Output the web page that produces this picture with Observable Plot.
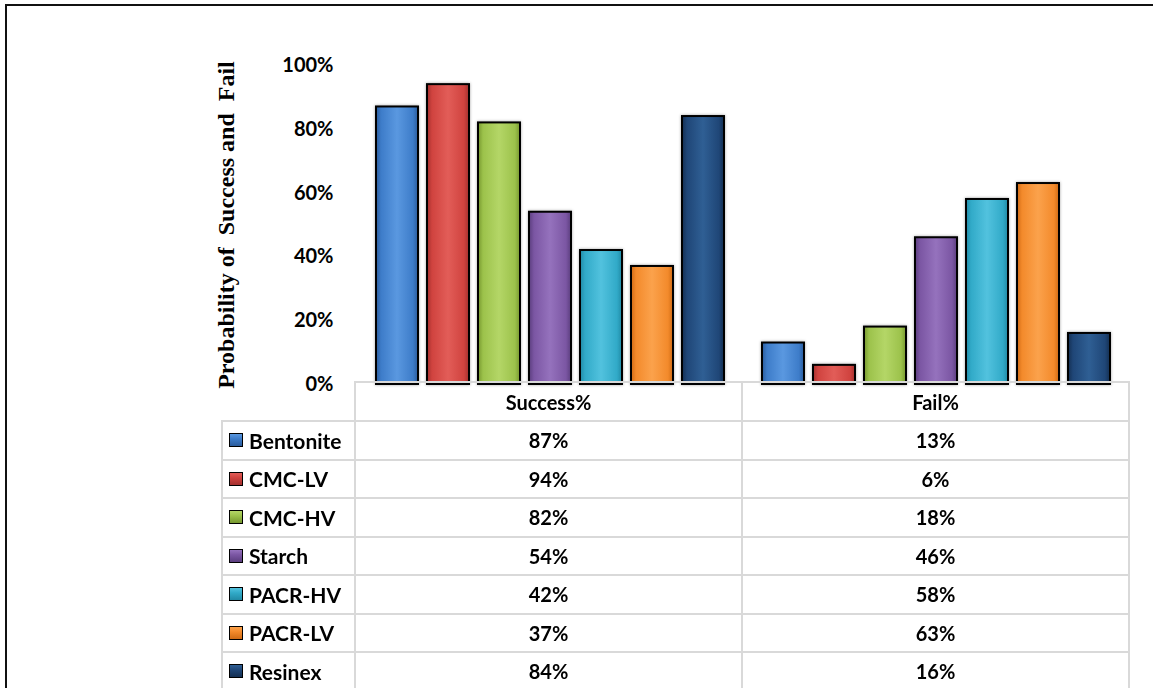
<!DOCTYPE html>
<html><head><meta charset="utf-8">
<script src="https://cdn.jsdelivr.net/npm/d3@7"></script>
<script src="https://cdn.jsdelivr.net/npm/@observablehq/plot@0.6"></script>
<style>
html,body{margin:0;padding:0;background:#fff;width:1153px;height:688px;overflow:hidden;position:relative;}
#frame{position:absolute;left:5px;top:4px;width:1200px;height:720px;border-top:2px solid #111;border-left:2px solid #111;}
#chart{position:absolute;left:0;top:0;}
svg text{white-space:pre;}
svg g[aria-label="bar"]{filter:drop-shadow(0 0 1.5px rgba(0,0,0,0.35));}
.ln{position:absolute;background:#d9d9d9;}
.tx{position:absolute;font-family:Lato,sans-serif;font-weight:bold;font-size:20px;color:#000;line-height:1;white-space:nowrap;}
.lab{font-size:21px;}
.key{position:absolute;width:12px;height:12px;border:1.5px solid #000;}
</style>
</head><body>
<div id="frame"></div>
<div id="chart"></div>
<div id="table"></div>
<script>
const materials = ["Bentonite","CMC-LV","CMC-HV","Starch","PACR-HV","PACR-LV","Resinex"];
const groups = ["Success%","Fail%"];
const success = [87,94,82,54,42,37,84];
const fail = [13,6,18,46,58,63,16];
const yTicks = [0,20,40,60,80,100];
const colors = ["#3d7cc9","#d0433f","#9cc24b","#7b56a3","#31aac8","#f38a2b","#1f4677"];
const edges  = ["#2b5c9c","#a3302e","#76972f","#5b3e7e","#218aa5","#cf6a14","#142f52"];
const lights = ["#5a98e0","#e25d58","#b4d667","#9572bd","#52c2de","#fba24c","#2f5f94"];
const yTitle = "Probability of  Success and  Fail";

const data = groups.flatMap((g, gi) => materials.map((m, i) => ({group: g, material: m, value: (gi === 0 ? success : fail)[i]})));

const bars = materials.map((m, i) => Plot.barY(data.filter(d => d.material === m), {
  fx: "group", x: "material", y: "value",
  fill: `url(#grad${i})`, stroke: "#000", strokeWidth: 2
}));

const chart = Plot.plot({
  width: 1153, height: 404,
  marginTop: 65, marginBottom: 20, marginLeft: 357, marginRight: 24,
  style: {fontFamily: "Lato", fontWeight: "bold", fontSize: "20px", color: "#000", background: "transparent"},
  y: {domain: [0, 100]},
  fx: {domain: groups, padding: 0, axis: null},
  x: {domain: materials, paddingInner: 0.175, paddingOuter: 0.35, axis: null},
  marks: [
    ...bars,
    Plot.axisY({ticks: yTicks, tickFormat: d => d + "%", tickSize: 0, tickPadding: 24, label: null, fontSize: 20}),
    Plot.axisY({ticks: [], label: yTitle, labelAnchor: "center", labelOffset: 141, labelArrow: "none", fontFamily: "Liberation Serif", fontSize: 24})
  ]
});

const svg = d3.select(chart);
const defs = svg.insert("defs", ":first-child");
colors.forEach((c, i) => {
  const g = defs.append("linearGradient").attr("id", `grad${i}`).attr("x1", 0).attr("x2", 1).attr("y1", 0).attr("y2", 0);
  [[0, edges[i]], [0.12, c], [0.5, lights[i]], [0.88, c], [1, edges[i]]].forEach(([o, col]) =>
    g.append("stop").attr("offset", o).attr("stop-color", col));
});
document.getElementById("chart").appendChild(chart);

// data table
const T = document.getElementById("table");
const colX = [222, 355, 742, 1129];
const headTop = 382, rowTop = 421, rowH = 38.5;
function line(x, y, w, h) { const d = document.createElement("div"); d.className = "ln"; Object.assign(d.style, {left: x + "px", top: y + "px", width: w + "px", height: h + "px"}); T.appendChild(d); }
function text(s, x, y, align, cls) {
  const d = document.createElement("div"); d.className = "tx" + (cls ? " " + cls : ""); d.textContent = s;
  d.style.top = (y - 10) + "px";
  if (align === "center") { d.style.left = (x - 200) + "px"; d.style.width = "400px"; d.style.textAlign = "center"; }
  else d.style.left = x + "px";
  T.appendChild(d); return d;
}
const bottom = 700;
line(colX[1] - 1, headTop - 1, colX[3] - colX[1] + 2, 2);
for (let i = 0; i <= materials.length; i++) line(colX[0] - 1, rowTop + i * rowH - 1, colX[3] - colX[0] + 2, 2);
line(colX[0] - 1, rowTop - 1, 2, bottom - rowTop);
for (let j = 1; j < 4; j++) line(colX[j] - 1, headTop - 1, 2, bottom - headTop);
groups.forEach((g, j) => text(g, (colX[j + 1] + colX[j + 2]) / 2, (headTop + rowTop) / 2, "center"));
materials.forEach((m, i) => {
  const cy = rowTop + i * rowH + rowH / 2;
  const k = document.createElement("div"); k.className = "key";
  Object.assign(k.style, {left: "229px", top: (cy - 7) + "px", background: `linear-gradient(to bottom, ${lights[i]}, ${colors[i]} 40%, ${edges[i]})`});
  T.appendChild(k);
  text(m, 249, cy - 0.5, null, "lab");
  text(success[i] + "%", (colX[1] + colX[2]) / 2, cy, "center");
  text(fail[i] + "%", (colX[2] + colX[3]) / 2, cy, "center");
});
</script>
</body></html>
